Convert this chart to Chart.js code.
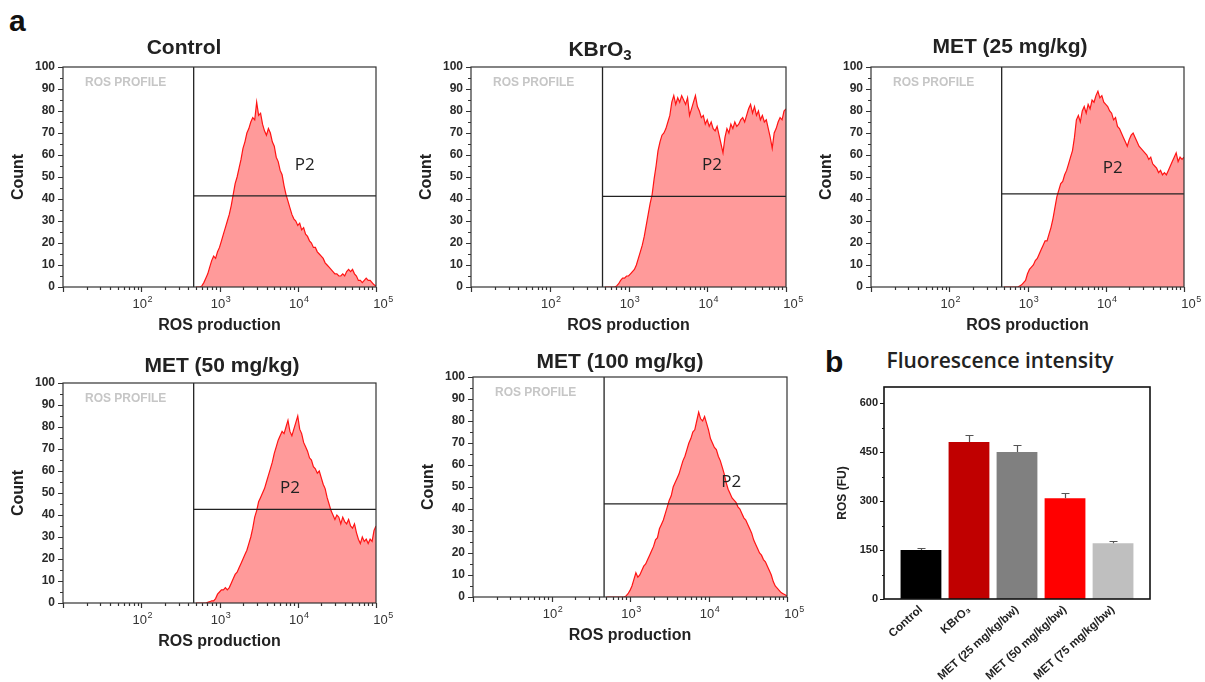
<!DOCTYPE html>
<html>
<head>
<meta charset="utf-8">
<script src="https://cdn.jsdelivr.net/npm/chart.js@4.4.1/dist/chart.umd.min.js"></script>
<style>
  body { margin: 0; width: 1205px; height: 682px; background: #fff; position: relative; overflow: hidden;
         font-family: "Liberation Sans", Arial, sans-serif; color: #222; }
  canvas { position: absolute; }
  .title { position: absolute; font-weight: bold; font-size: 21px; line-height: 1; white-space: nowrap;
           transform: translate(-50%, -50%); color: #222; }
  .title sub { font-size: 15px; vertical-align: -4px; line-height: 0; }
  .letter { position: absolute; font-weight: bold; font-size: 30px; line-height: 1; color: #111; }
  .btitle { position: absolute; font-family: "Open Sans", sans-serif; font-weight: 600; font-size: 21px;
            line-height: 1; white-space: nowrap; transform: translate(-50%, -50%); color: #222; }
</style>
</head>
<body>
<div class="letter" style="left:9px; top:6px;">a</div>
<div class="letter" style="left:825px; top:347px;">b</div>
<div class="btitle" style="left:1000px; top:360px;">Fluorescence intensity</div>

<script>
// ---- data ----
// channel positions, log10 of ROS production
const bins = [
  2.700, 2.725, 2.750, 2.775, 2.800, 2.825, 2.850, 2.875, 2.900, 2.925, 2.950, 2.975,
  3.000, 3.025, 3.050, 3.075, 3.100, 3.125, 3.150, 3.175, 3.200, 3.225, 3.250, 3.275, 3.300, 3.325, 3.350, 3.375, 3.400, 3.425, 3.450, 3.475,
  3.500, 3.525, 3.550, 3.575, 3.600, 3.625, 3.650, 3.675, 3.700, 3.725, 3.750, 3.775, 3.800, 3.825, 3.850, 3.875, 3.900, 3.925, 3.950, 3.975,
  4.000, 4.025, 4.050, 4.075, 4.100, 4.125, 4.150, 4.175, 4.200, 4.225, 4.250, 4.275, 4.300, 4.325, 4.350, 4.375, 4.400, 4.425, 4.450, 4.475,
  4.500, 4.525, 4.550, 4.575, 4.600, 4.625, 4.650, 4.675, 4.700, 4.725, 4.750, 4.775, 4.800, 4.825, 4.850, 4.875, 4.900, 4.925, 4.950, 4.975,
  5.000
];

const controlCounts = [
  0, 0, 0, 0.5, 2, 4, 6, 9, 12, 14, 13, 16,
  18, 21, 24, 27, 30, 33, 37, 42, 47, 50, 54, 58, 63, 66, 70, 72, 75, 77, 76, 84,
  78, 79, 74, 71, 69, 72, 70, 66, 64, 59, 57, 53, 51, 46, 42, 39, 36, 33, 31, 30,
  28, 29, 26, 27, 24, 23, 21, 20, 18, 18, 16, 15, 14, 13, 11, 10, 9, 8, 7, 6,
  6, 5, 5, 6, 5, 7, 8, 7, 8, 6, 5, 3, 3, 2, 3, 4, 3, 3, 2, 1,
  0.5
];
const kbro3Counts = [
  0, 0, 0, 0, 0, 0, 0.5, 1.5, 3, 4, 4, 5,
  5, 6, 7, 8, 10, 13, 16, 19, 23, 28, 33, 38, 42, 49, 55, 62, 66, 69, 70, 72,
  75, 78, 84, 87, 83, 86, 84, 87, 85, 83, 86, 78, 81, 84, 87, 82, 80, 77, 78, 74,
  76, 73, 75, 72, 71, 73, 69, 65, 61, 68, 72, 70, 74, 72, 75, 73, 74, 76, 77, 75,
  78, 81, 83, 79, 82, 78, 80, 76, 78, 75, 76, 72, 68, 63, 70, 72, 75, 77, 76, 80,
  81
];
const met25Counts = [
  0, 0, 0, 0, 0, 0, 0, 0, 0.5, 1, 2, 3,
  6, 8, 9, 10, 12, 13, 15, 17, 19, 21, 21, 24, 27, 31, 36, 41, 44, 47, 48, 51,
  53, 56, 59, 62, 68, 76, 78, 75, 80, 82, 79, 83, 81, 85, 84, 87, 89, 86, 87, 84,
  83, 82, 80, 79, 76, 77, 73, 72, 70, 68, 66, 64, 67, 69, 70, 68, 66, 64, 63, 62,
  61, 60, 58, 59, 56, 55, 54, 52, 53, 51, 52, 51, 53, 55, 57, 59, 61, 57, 59, 58,
  59
];
const met50Counts = [
  0, 0, 0, 0, 0, 0, 0.3, 0.6, 1, 1, 2, 4,
  5, 6, 6, 7, 6, 7, 9, 11, 13, 14, 16, 18, 20, 22, 24, 27, 30, 34, 39, 42,
  46, 48, 50, 52, 55, 58, 61, 64, 68, 71, 74, 76, 78, 77, 80, 83, 78, 76, 79, 82,
  85, 79, 77, 73, 71, 69, 66, 65, 62, 61, 59, 60, 57, 54, 52, 48, 45, 42, 40, 38,
  40, 39, 36, 39, 37, 36, 38, 35, 34, 36, 32, 29, 27, 30, 28, 29, 27, 29, 28, 33,
  35
];
const met100Counts = [
  0, 0, 0, 0, 0, 0, 0, 0, 0, 0, 0.5, 1.5,
  3, 5, 8, 11, 9, 10, 12, 14, 15, 17, 19, 21, 23, 26, 27, 31, 33, 35, 38, 41,
  44, 46, 50, 52, 54, 56, 59, 62, 64, 67, 70, 72, 75, 76, 80, 84, 81, 80, 82, 79,
  76, 72, 70, 68, 67, 64, 62, 59, 56, 52, 49, 47, 45, 44, 43, 41, 40, 38, 36, 35,
  33, 31, 29, 26, 24, 22, 20, 19, 17, 16, 14, 12, 10, 7, 5, 4, 3, 2, 1.5, 1,
  0.5
];

const panelTitles = ['Control', 'KBrO<sub>3</sub>', 'MET (25 mg/kg)', 'MET (50 mg/kg)', 'MET (100 mg/kg)'];
const histCounts = [controlCounts, kbro3Counts, met25Counts, met50Counts, met100Counts];
const gateX = 2.67;                          // vertical gate, log10 units
const gateY = [41.4, 41.2, 42.3, 42.6, 42.3]; // horizontal P2 gate level
const p2X = [4.09, 4.06, 4.09, 3.90, 4.29];
const p2Y = [55.5, 55.5, 54, 52, 52];
const xTickExp = [2, 3, 4, 5];

const barLabels = ['Control', 'KBrO\u2083', 'MET (25 mg/kg/bw)', 'MET (50 mg/kg/bw)', 'MET (75 mg/kg/bw)'];
const barValues = [150, 481, 451, 309, 171];
const barErrors = [5, 21, 22, 16, 7];
const barYTicks = [0, 150, 300, 450, 600];

// ---- layout / style ----
const histLayout = [
  { left: 63,  top: 67,  right: 376,  bottom: 287, tx: 184,  ty: 46 },
  { left: 471, top: 67,  right: 786,  bottom: 287, tx: 600,  ty: 48 },
  { left: 871, top: 67,  right: 1184, bottom: 287, tx: 1010, ty: 45 },
  { left: 63,  top: 383, right: 376,  bottom: 603, tx: 222,  ty: 364 },
  { left: 473, top: 377, right: 787,  bottom: 597, tx: 620,  ty: 360 }
];
const barColors = ['#000000', '#c00000', '#808080', '#ff0000', '#bfbfbf'];
const FONT = '"Liberation Sans", Arial, sans-serif';
Chart.defaults.font.family = FONT;
Chart.defaults.color = '#222';

const histDecor = {
  id: 'histDecor',
  afterDatasetsDraw(chart, args, opts) {
    const { ctx, chartArea: a, scales: { x, y } } = chart;
    ctx.save();
    ctx.strokeStyle = '#333';
    ctx.lineWidth = 1.2;
    ctx.strokeRect(a.left, a.top, a.right - a.left, a.bottom - a.top);

    // log ticks on x, 5-step ticks on y
    ctx.beginPath();
    for (let e = 1; e <= 5; e++) {
      for (let k = 1; k < 10; k++) {
        if (e === 5 && k > 1) break;
        const px = Math.round(x.getPixelForValue(e + Math.log10(k))) + 0.5;
        ctx.moveTo(px, a.bottom);
        ctx.lineTo(px, a.bottom + (k === 1 ? 5 : 3));
      }
    }
    for (let v = 0; v <= 100; v += 5) {
      const py = Math.round(y.getPixelForValue(v)) + 0.5;
      ctx.moveTo(a.left, py);
      ctx.lineTo(a.left - (v % 10 === 0 ? 5 : 3), py);
    }
    ctx.stroke();

    // decade labels 10^n with raised exponent
    ctx.fillStyle = '#333';
    ctx.textBaseline = 'alphabetic';
    xTickExp.forEach(e => {
      const px = x.getPixelForValue(e) + (e === 5 ? 6 : 0);
      ctx.font = '13px ' + FONT;
      const wBase = ctx.measureText('10').width;
      ctx.font = '9px ' + FONT;
      const wExp = ctx.measureText(String(e)).width;
      const start = px - (wBase + wExp) / 2 + 1;
      ctx.font = '13px ' + FONT;
      ctx.textAlign = 'left';
      ctx.fillText('10', start, a.bottom + 21);
      ctx.font = '9px ' + FONT;
      ctx.fillText(String(e), start + wBase + 0.5, a.bottom + 15);
    });

    ctx.fillStyle = '#c6c6c6';
    ctx.font = 'bold 12px ' + FONT;
    ctx.textBaseline = 'middle';
    ctx.textAlign = 'left';
    ctx.fillText('ROS PROFILE', a.left + 22, a.top + 16);

    ctx.fillStyle = '#222';
    ctx.font = '17px "Open Sans", sans-serif';
    ctx.textAlign = 'center';
    ctx.fillText('P2', x.getPixelForValue(opts.px), y.getPixelForValue(opts.py));
    ctx.restore();
  }
};

function makeCanvas(left, top, width, height) {
  const c = document.createElement('canvas');
  c.width = width;
  c.height = height;
  c.style.left = left + 'px';
  c.style.top = top + 'px';
  document.body.appendChild(c);
  return c;
}

function drawHistogram(i) {
  const L = histLayout[i];
  const cLeft = L.left - 63;
  const cTop = L.top - 10;
  const canvas = makeCanvas(cLeft, cTop, L.right + 24 - cLeft, L.bottom + 53 - cTop);

  const t = document.createElement('div');
  t.className = 'title';
  t.innerHTML = panelTitles[i];
  t.style.left = L.tx + 'px';
  t.style.top = L.ty + 'px';
  document.body.appendChild(t);

  const counts = histCounts[i];
  new Chart(canvas, {
    type: 'line',
    data: {
      datasets: [
        {
          data: bins.map((b, k) => ({ x: b, y: counts[k] })),
          borderColor: '#ff1414',
          borderWidth: 1.2,
          backgroundColor: '#ff9a9a',
          fill: 'origin',
          pointRadius: 0,
          tension: 0,
          order: 2
        },
        {
          data: [{ x: gateX, y: 0 }, { x: gateX, y: 100 }],
          borderColor: '#222', borderWidth: 1.3, pointRadius: 0, fill: false, order: 1
        },
        {
          data: [{ x: gateX, y: gateY[i] }, { x: 5, y: gateY[i] }],
          borderColor: '#222', borderWidth: 1.3, pointRadius: 0, fill: false, order: 1
        }
      ]
    },
    options: {
      responsive: false,
      animation: false,
      layout: { padding: { left: 0, right: 24, top: 10, bottom: 0 } },
      plugins: {
        legend: { display: false },
        tooltip: { enabled: false },
        histDecor: { px: p2X[i], py: p2Y[i] }
      },
      scales: {
        x: {
          type: 'linear',
          min: 1,
          max: 5,
          grid: { display: false, drawTicks: false },
          border: { display: false },
          afterBuildTicks: s => { s.ticks = xTickExp.map(v => ({ value: v })); },
          afterFit: s => { s.height = 53; s.paddingLeft = 0; s.paddingRight = 0; },
          ticks: { display: false },
          title: {
            display: true,
            text: 'ROS production',
            font: { size: 16, weight: 'bold' },
            padding: { top: 0, bottom: 5 }
          }
        },
        y: {
          min: 0,
          max: 100,
          grid: { display: false, drawTicks: false },
          border: { display: false },
          afterFit: s => { s.width = 63; s.paddingTop = 0; s.paddingBottom = 0; },
          ticks: { stepSize: 10, padding: 8, color: '#2a2a2a', font: { size: 12, weight: 'bold' } },
          title: {
            display: true,
            text: 'Count',
            font: { size: 16, weight: 'bold' },
            padding: { top: 9, bottom: 0 }
          }
        }
      }
    },
    plugins: [histDecor]
  });
}

histLayout.forEach((_, i) => drawHistogram(i));

// ---- bar chart (b) ----
const barDecor = {
  id: 'barDecor',
  afterDatasetsDraw(chart) {
    const { ctx, chartArea: a, scales: { x, y } } = chart;
    ctx.save();
    ctx.strokeStyle = '#555';
    ctx.lineWidth = 1.2;
    barValues.forEach((v, i) => {
      const px = Math.round(x.getPixelForValue(i)) + 0.5;
      const base = y.getPixelForValue(v);
      const top = Math.round(y.getPixelForValue(v + barErrors[i])) + 0.5;
      ctx.beginPath();
      ctx.moveTo(px, base);
      ctx.lineTo(px, top);
      ctx.moveTo(px - 4, top);
      ctx.lineTo(px + 4, top);
      ctx.stroke();
    });

    ctx.strokeStyle = '#111';
    ctx.lineWidth = 1.6;
    ctx.strokeRect(a.left, a.top, a.right - a.left, a.bottom - a.top);
    ctx.lineWidth = 1;
    ctx.beginPath();
    for (let v = 0; v <= 600; v += 75) {
      const py = Math.round(y.getPixelForValue(v)) + 0.5;
      ctx.moveTo(a.left, py);
      ctx.lineTo(a.left - (v % 150 === 0 ? 4 : 2), py);
    }
    ctx.stroke();
    ctx.restore();
  }
};

const barCanvas = makeCanvas(834, 377, 326, 304);
new Chart(barCanvas, {
  type: 'bar',
  data: {
    datasets: [{
      data: barValues.map((v, i) => ({ x: i, y: v })),
      backgroundColor: barColors,
      borderWidth: 0,
      barPercentage: 0.85,
      categoryPercentage: 1
    }]
  },
  options: {
    responsive: false,
    animation: false,
    layout: { padding: { left: 0, right: 10, top: 10, bottom: 0 } },
    plugins: { legend: { display: false }, tooltip: { enabled: false } },
    scales: {
      x: {
        type: 'linear',
        min: -0.77,
        max: 4.77,
        offset: false,
        grid: { display: false, drawTicks: false, offset: false },
        border: { display: false },
        afterBuildTicks: s => { s.ticks = barLabels.map((_, i) => ({ value: i })); },
        afterFit: s => { s.height = 82; s.paddingLeft = 0; s.paddingRight = 0; },
        ticks: {
          autoSkip: false,
          minRotation: 42,
          maxRotation: 42,
          padding: 4,
          font: { size: 11.5, weight: 'bold' },
          callback: v => barLabels[v]
        }
      },
      y: {
        min: 0,
        max: 650,
        grid: { display: false, drawTicks: false },
        border: { display: false },
        afterBuildTicks: s => { s.ticks = barYTicks.map(v => ({ value: v })); },
        afterFit: s => { s.width = 50; s.paddingTop = 0; s.paddingBottom = 0; },
        ticks: { padding: 6, font: { size: 11, weight: 'bold' } },
        title: {
          display: true,
          text: 'ROS (FU)',
          font: { size: 12, weight: 'bold' },
          padding: { top: 1, bottom: 0 }
        }
      }
    }
  },
  plugins: [barDecor]
});
</script>
</body>
</html>
